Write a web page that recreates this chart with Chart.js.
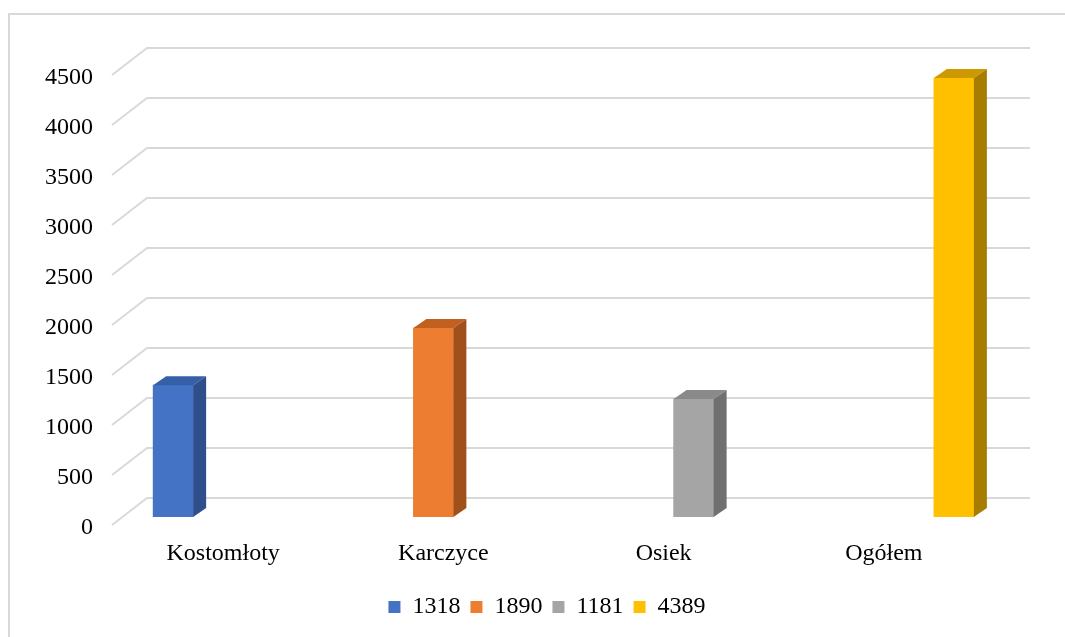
<!DOCTYPE html>
<html>
<head>
<meta charset="utf-8">
<script src="https://cdn.jsdelivr.net/npm/chart.js@4"></script>
<style>
  body { margin: 0; background: #fff; }
</style>
</head>
<body>
<canvas id="wykres" width="1065" height="637"></canvas>
<script>
const categories = ['Kostomłoty', 'Karczyce', 'Osiek', 'Ogółem'];
const seriesNames = ['1318', '1890', '1181', '4389'];
const seriesValues = [1318, 1890, 1181, 4389];
const frontColors = ['#4472C4', '#ED7D31', '#A5A5A5', '#FFC000'];
const topColors = ['#3560A8', '#C2601F', '#8A8A8A', '#CC9A00'];
const sideColors = ['#2E4F8C', '#A0501A', '#707070', '#A67D00'];

// 3D look: back wall grid + bar side/top faces
const depthX = 13, depthY = 9;
const wallPlugin = {
    id: 'wall',
    beforeDraw(chart) {
        const c = chart.ctx;
        c.save();
        c.strokeStyle = '#d9d9d9';
        c.lineWidth = 2;
        c.beginPath();
        c.moveTo(9, 637);
        c.lineTo(9, 14);
        c.lineTo(1065, 14);
        c.stroke();
        c.restore();
    },
    beforeDatasetsDraw(chart) {
        const c = chart.ctx;
        const area = chart.chartArea;
        const y = chart.scales.y;
        c.save();
        c.strokeStyle = '#d9d9d9';
        c.lineWidth = 2;
        y.ticks.forEach(t => {
            const p = y.getPixelForValue(t.value);
            c.beginPath();
            c.moveTo(area.left - 11, p + 8);
            c.lineTo(area.left + 24, p - 19);
            c.lineTo(area.right + 26, p - 19);
            c.stroke();
        });
        c.restore();
    },
    afterDatasetsDraw(chart) {
        const c = chart.ctx;
        c.save();
        chart.data.datasets.forEach((ds, i) => {
            chart.getDatasetMeta(i).data.forEach((bar, j) => {
                if (ds.data[j] == null) return;
                const { x, y, base, width } = bar.getProps(['x', 'y', 'base', 'width'], true);
                const l = x - width / 2, r = x + width / 2;
                c.fillStyle = topColors[i];
                c.beginPath();
                c.moveTo(l, y);
                c.lineTo(l + depthX, y - depthY);
                c.lineTo(r + depthX, y - depthY);
                c.lineTo(r, y);
                c.closePath();
                c.fill();
                c.fillStyle = sideColors[i];
                c.beginPath();
                c.moveTo(r, y);
                c.lineTo(r + depthX, y - depthY);
                c.lineTo(r + depthX, base - depthY);
                c.lineTo(r, base);
                c.closePath();
                c.fill();
            });
        });
        c.restore();
    }
};

const ctx = document.getElementById('wykres').getContext('2d');
const wykres = new Chart(ctx, {
    type: 'bar',
    data: {
        labels: categories,
        datasets: seriesNames.map((name, i) => ({
            label: name,
            data: categories.map((_, j) => (j === i ? seriesValues[i] : null)),
            backgroundColor: frontColors[i],
            borderWidth: 0,
            barThickness: 40
        }))
    },
    options: {
        responsive: false,
        animation: false,
        layout: {
            padding: { left: 29, right: 0, top: 67, bottom: 8 }
        },
        plugins: {
            legend: {
                position: 'bottom',
                labels: {
                    boxWidth: 12,
                    boxHeight: 12,
                    padding: 10,
                    color: '#000',
                    font: { family: 'Liberation Serif', size: 24 }
                }
            },
            tooltip: { enabled: false }
        },
        scales: {
            x: {
                grid: { display: false, drawTicks: false },
                border: { display: false },
                ticks: {
                    color: '#000',
                    padding: 22,
                    labelOffset: -10,
                    font: { family: 'Liberation Serif', size: 24 }
                },
                afterFit: s => { s.height = 68; }
            },
            y: {
                min: 0,
                max: 4500,
                grid: { display: false, drawTicks: false },
                border: { display: false },
                ticks: {
                    stepSize: 500,
                    color: '#000',
                    padding: 30,
                    labelOffset: 11,
                    font: { family: 'Liberation Serif', size: 24 },
                    callback: v => String(v)
                },
                afterFit: s => { s.width = 94; }
            },
            y2: {
                position: 'right',
                grid: { display: false, drawTicks: false },
                border: { display: false },
                ticks: { display: false },
                afterFit: s => { s.width = 61; }
            }
        }
    },
    plugins: [wallPlugin]
});
</script>
</body>
</html>
